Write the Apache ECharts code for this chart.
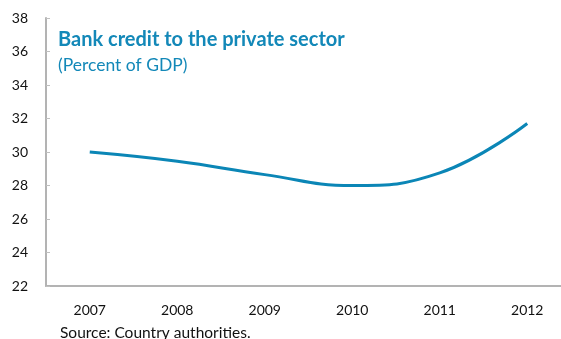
<!DOCTYPE html>
<html><head><meta charset="utf-8">
<script src="https://cdn.jsdelivr.net/npm/echarts@6/dist/echarts.min.js"></script>
<style>html,body{margin:0;padding:0;background:#fff}#c{width:561px;height:339px}</style>
</head><body><div id="c"></div>
<script>
const years = ['2007','2008','2009','2010','2011','2012'];
const credit = [30.0, 29.45, 28.65, 28.0, 28.75, 31.7];
const yTicks = {min: 22, max: 38, interval: 2};

const chart = echarts.init(document.getElementById('c'), null, {renderer:'canvas'});
const font = 'Lato, "Open Sans", sans-serif';
chart.setOption({
  animation:false,
  grid:{left:46, top:18, right:-10, bottom:53, containLabel:false, outerBoundsMode:'none'},
  title:[
    {text:'Bank credit to the private sector', left:53, top:25,
     textStyle:{fontFamily:font, fontWeight:'bold', fontSize:20, color:'#1388b8'}},
    {text:'(Percent of GDP)', left:53, top:51,
     textStyle:{fontFamily:font, fontWeight:'normal', fontSize:17.5, color:'#1388b8'}},
    {text:'Source: Country authorities.', left:55, top:320,
     textStyle:{fontFamily:font, fontWeight:'normal', fontSize:15.5, color:'#111'}}
  ],
  xAxis:{type:'category', data:years, boundaryGap:true,
    axisLine:{lineStyle:{color:'#b3b3b3', width:2}},
    axisTick:{inside:true, length:5, lineStyle:{color:'#c0c0c0', width:1}},
    axisLabel:{fontFamily:font, fontSize:14, color:'#111', margin:17}},
  yAxis:{type:'value', min:yTicks.min, max:yTicks.max, interval:yTicks.interval,
    axisLine:{show:true, lineStyle:{color:'#b3b3b3', width:2}},
    axisTick:{show:true, inside:true, length:4, lineStyle:{color:'#c0c0c0', width:1}},
    splitLine:{show:false},
    axisLabel:{fontFamily:font, fontSize:14, color:'#111', margin:18}},
  series:[{type:'line', data:credit, smooth:0.45, symbol:'none',
    lineStyle:{color:'#0b86b6', width:3}}]
});
</script></body></html>
